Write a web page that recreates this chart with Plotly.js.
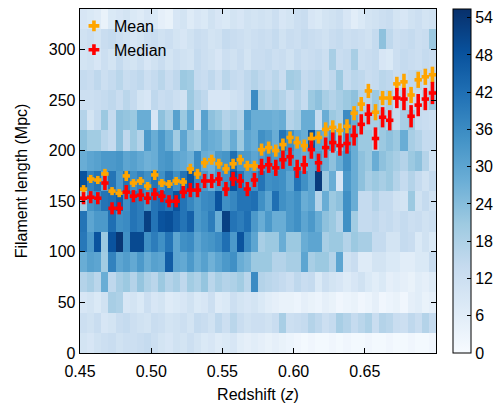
<!DOCTYPE html>
<html>
<head>
<meta charset="utf-8">
<script src="https://cdn.plot.ly/plotly-3.0.1.min.js"></script>
<style>html,body{margin:0;padding:0;background:#fff;}#chart{width:503px;height:409px;}</style>
</head>
<body>
<div id="chart"></div>
<script>
// Redshift bins: 50 bins of width 0.005 from 0.45 to 0.70
const zStart = 0.45, zWidth = 0.005, nZ = 50;
// Filament length bins: 17 bins of width 20 Mpc from 0 to 340
const lStart = 0, lWidth = 20, nL = 17;

// Heatmap counts, one array per length bin (row), 50 redshift bins each
const row000 = [10,9,11,12,13,11,12,12,13,14,12,10,9,11,10,12,10,8,9,7,8,9,6,5,6, 5,4,5,4,3,2,1,2,1,1,2,1,2,1,1,2,1,1,2,1,1,2,1,1,2];
const row020 = [12,11,13,9,10,13,14,12,11,10,13,12,10,11,12,10,14,13,11,15,12,16,13,11,12, 12,11,13,19,12,13,14,17,15,12,14,19,17,14,16,18,13,17,16,13,12,15,13,17,14];
const row040 = [9,10,8,11,19,18,9,10,8,12,9,10,7,8,9,11,8,9,12,7,8,12,10,9,10, 8,6,5,4,4,3,5,4,3,5,4,2,3,4,2,3,5,2,3,4,2,5,6,4,5];
const row060 = [17,19,16,28,15,19,21,17,22,18,16,21,17,19,15,20,18,22,16,19,17,18,20,16,36, 17,16,15,14,12,15,13,14,8,12,10,9,7,9,11,8,6,8,5,6,5,4,6,5,7];
const row080 = [28,31,30,20,38,30,32,29,33,28,31,30,46,30,29,33,28,31,27,30,33,35,28,26,21, 21,21,17,17,19,19,30,19,21,21,17,30,11,13,7,7,10,10,8,8,6,6,8,8,13];
const row100 = [40,33,48,21,48,54,35,50,50,35,39,35,41,30,35,36,30,33,34,36,42,33,48,36,30, 19,21,21,28,21,21,28,30,30,19,21,21,17,21,19,19,14,14,10,10,14,13,8,11,8];
const row120 = [41,30,33,33,42,35,36,41,39,52,41,48,49,45,41,45,33,35,39,28,52,41,39,42,33, 28,33,28,28,33,35,30,33,28,23,21,17,35,20,14,14,15,13,14,12,14,12,13,11,12];
const row140 = [20,34,36,41,42,46,35,41,39,34,41,43,41,48,41,37,33,36,37,48,35,37,41,41,42, 35,30,42,35,33,35,28,30,17,28,21,23,35,28,14,14,17,14,14,11,10,21,11,14,11];
const row160 = [48,38,41,30,41,33,41,35,38,35,41,35,41,35,41,48,36,33,28,33,35,48,41,33,35, 41,35,36,35,30,41,35,30,53,21,28,9,33,28,23,19,21,19,21,17,14,17,14,11,14];
const row180 = [28,30,31,33,33,34,30,31,29,27,28,33,34,30,29,27,36,28,27,33,34,42,33,33,30, 33,35,33,35,33,30,28,30,33,28,23,28,35,28,23,21,28,23,21,19,17,21,23,17,11];
const row200 = [23,20,20,16,14,23,15,21,17,33,28,33,28,20,30,23,21,30,28,27,23,28,21,30,28, 35,33,28,41,35,30,28,48,30,28,33,21,33,28,21,21,17,21,23,21,28,19,17,14,14];
const row220 = [17,10,14,21,14,23,22,21,28,28,9,23,19,31,21,28,14,31,23,21,17,19,17,33,28, 28,28,27,28,17,19,28,28,14,28,21,19,36,28,21,19,19,21,17,14,19,21,14,13,12];
const row240 = [12,12,13,14,15,13,16,14,10,9,15,13,14,12,11,21,17,15,9,9,9,11,12,15,36, 19,17,19,17,14,17,14,21,23,19,17,19,21,23,17,17,21,17,19,14,17,14,14,17,21];
const row260 = [14,13,15,12,14,16,13,14,15,12,14,16,13,15,21,20,14,13,15,12,16,14,13,15,17, 15,14,16,13,20,19,14,15,16,13,15,21,14,16,15,13,14,16,15,13,14,15,16,14,15];
const row280 = [10,11,9,12,10,14,11,10,12,9,11,13,10,12,11,10,14,12,11,9,12,11,13,10,13, 13,14,12,13,11,14,12,13,14,12,19,13,14,19,12,13,14,9,8,12,14,13,12,14,13];
const row300 = [11,12,10,13,14,12,11,9,10,12,13,11,12,10,9,11,13,12,10,11,14,13,12,11,12, 13,12,14,11,13,12,14,13,12,11,13,14,12,13,12,11,14,23,15,12,13,14,12,13,21];
const row320 = [9,8,7,4,8,9,10,8,7,9,8,5,4,9,10,7,9,8,11,9,8,10,9,11,10, 11,10,12,9,10,12,13,9,8,10,11,12,9,6,8,10,11,12,13,10,9,11,12,10,11];

// Mean and median filament length per redshift bin, with errors
const meanLen = [162,172,171,177,160,158,175,168,170,165,176,168,167,170,169,182,177,188,191,187,182,187,191,185,185,
                 201,203,200,206,213,208,205,212,213,221,223,220,224,237,246,259,238,252,252,266,268,255,270,273,275];
const meanErr = [4,4,4,5,4,4,5,4,4,4,5,4,4,4,4,5,5, 5,5,5,5,5,5,5,5,6,6,6,6,6,6,6,6,6, 7,7,7,7,7,7,7,8,7,7,7,8,8,8,8,8];
const medianLen = [153,154,153,168,143,143,159,155,156,153,157,155,150,150,159,161,161,170,170,172,162,172,170,162,171,
                   184,186,183,191,194,182,186,201,188,203,208,205,207,215,226,236,212,233,230,252,251,234,245,251,257];
const medianErr = [6,6,6,7,6,6,7,6,6,6,6,6,6,6,6,7,7, 7,7,7,7,7,7,7,7,8,8,8,9,9,9,9,9,9, 10,10,10,10,10,10,10,11,10,10,10,11,11,11,11,11];

const cbTicks = [0,6,12,18,24,30,36,42,48,54];
const xTicks = [0.45,0.50,0.55,0.60,0.65];

const zCenters = Array.from({length:nZ}, (_, i) => +(zStart + zWidth*(i+0.5)).toFixed(4));
const lCenters = Array.from({length:nL}, (_, i) => lStart + lWidth*(i+0.5));
const zGrid = [row000,row020,row040,row060,row080,row100,row120,row140,row160,row180,row200,row220,row240,row260,row280,row300,row320];

const blues = [[0,'#f7fbff'],[0.125,'#deebf7'],[0.25,'#c6dbef'],[0.375,'#9ecae1'],[0.5,'#6baed6'],[0.625,'#4292c6'],[0.75,'#2171b5'],[0.875,'#08519c'],[1,'#08306b']];
const FONT = 'Liberation Sans, Arial, Helvetica, sans-serif';

const traces = [
  {type:'heatmap', x:zCenters, y:lCenters, z:zGrid, zmin:0, zmax:55.4, colorscale:blues, zsmooth:false,
   hoverinfo:'skip',
   colorbar:{x:1.047, xanchor:'left', xref:'paper', y:0.5, yanchor:'middle', len:1, lenmode:'fraction', thickness:18,
     outlinewidth:1, outlinecolor:'#000', tickvals:cbTicks, ticks:'inside', ticklen:4, tickcolor:'#000',
     tickfont:{family:FONT, size:16, color:'#000'}, xpad:0, ypad:0}},
  {type:'scatter', mode:'markers', x:zCenters, y:meanLen, showlegend:false,
   marker:{size:3, color:'#FFA500'},
   error_y:{type:'data', array:meanErr, visible:true, color:'#FFA500', thickness:3.6, width:0},
   error_x:{type:'constant', value:0.0026, visible:true, color:'#FFA500', thickness:3.6, width:0}},
  {type:'scatter', mode:'markers', x:zCenters, y:medianLen, showlegend:false,
   marker:{size:3, color:'#FF0000'},
   error_y:{type:'data', array:medianErr, visible:true, color:'#FF0000', thickness:3.6, width:0},
   error_x:{type:'constant', value:0.0026, visible:true, color:'#FF0000', thickness:3.6, width:0}},
  {type:'scatter', mode:'markers', x:[null], y:[null], name:'Mean', marker:{symbol:'cross', size:9, color:'#FFA500'}},
  {type:'scatter', mode:'markers', x:[null], y:[null], name:'Median', marker:{symbol:'cross', size:9, color:'#FF0000'}}
];

const axisCommon = {showline:true, linecolor:'#000', linewidth:1.3, mirror:'ticks', ticks:'inside', ticklen:5,
  tickcolor:'#000', tickwidth:1, showgrid:false, zeroline:false, tickfont:{family:FONT, size:16, color:'#000'}};

const layout = {
  width:503, height:409, margin:{l:80, r:67, t:9, b:56, autoexpand:false},
  paper_bgcolor:'#fff', plot_bgcolor:'#fff',
  font:{family:FONT, color:'#000'},
  xaxis:Object.assign({}, axisCommon, {range:[0.45,0.70], tickvals:xTicks, tickformat:'.2f', ticklabelstandoff:3,
    title:{text:'Redshift (<i>z</i>)', font:{family:FONT, size:16, color:'#000'}, standoff:10}}),
  yaxis:Object.assign({}, axisCommon, {range:[0,340], dtick:50, tick0:0,
    title:{text:'Filament length (Mpc)', font:{family:FONT, size:16, color:'#000'}, standoff:17}}),
  legend:{x:-0.017, xanchor:'left', y:1, yanchor:'top', bgcolor:'rgba(0,0,0,0)', borderwidth:0,
    font:{family:FONT, size:16, color:'#000'}, itemsizing:'trace'},
  showlegend:true
};

Plotly.newPlot('chart', traces, layout, {displayModeBar:false, staticPlot:true});
</script>
</body>
</html>
